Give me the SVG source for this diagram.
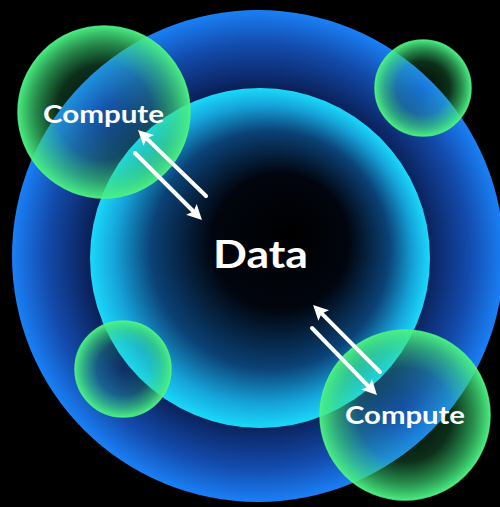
<svg xmlns="http://www.w3.org/2000/svg" width="500" height="507" viewBox="0 0 500 507">
<defs>
<style>
.lbl{font-family:Lato,"Liberation Sans",sans-serif;font-weight:700;fill:#ffffff;text-anchor:middle}
.arw{stroke:#ffffff;stroke-width:4;stroke-linecap:round;fill:none;marker-end:url(#head)}
.green{fill:url(#gGreen);stroke:#52f28a;stroke-width:1.5;stroke-opacity:0.85}
</style>
<radialGradient id="gOuter" gradientUnits="userSpaceOnUse" cx="258" cy="256" r="246">
<stop offset="0" stop-color="#040c22"/>
<stop offset="0.68" stop-color="#0a1f56"/>
<stop offset="0.86" stop-color="#134bac"/>
<stop offset="1" stop-color="#1a80f6"/>
</radialGradient>
<radialGradient id="gInner" cx="0.5" cy="0.5" r="0.5" fx="0.6" fy="0.42">
<stop offset="0" stop-color="#000000"/>
<stop offset="0.4" stop-color="#01050e"/>
<stop offset="0.7" stop-color="#0b4277"/>
<stop offset="0.88" stop-color="#15a4da"/>
<stop offset="1" stop-color="#1ad9f9"/>
</radialGradient>
<radialGradient id="gGreen" cx="0.5" cy="0.5" r="0.5">
<stop offset="0" stop-color="#30d070" stop-opacity="0.04"/>
<stop offset="0.55" stop-color="#38d878" stop-opacity="0.22"/>
<stop offset="0.8" stop-color="#3fe07a" stop-opacity="0.62"/>
<stop offset="1" stop-color="#4af082" stop-opacity="0.97"/>
</radialGradient>
<marker id="head" markerUnits="userSpaceOnUse" markerWidth="16" markerHeight="16" refX="3" refY="7.5" orient="auto" overflow="visible">
<path d="M0,0 L15,7.5 L0,15 L3,7.5 Z" fill="#ffffff"/>
</marker>
</defs>
<rect x="0" y="0" width="500" height="507" fill="#000000"/>
<g id="data">
<circle cx="258" cy="256" r="246" fill="url(#gOuter)"/>
<circle cx="260" cy="258" r="170" fill="url(#gInner)"/>
<text class="lbl" x="260.5" y="268" font-size="39" textLength="95" lengthAdjust="spacingAndGlyphs">Data</text>
</g>
<g id="compute-top-left">
<circle class="green" cx="104" cy="112" r="86"/>
<text class="lbl" x="103.5" y="123" font-size="25" textLength="121" lengthAdjust="spacingAndGlyphs">Compute</text>
</g>
<g id="node-top-right">
<circle class="green" cx="423" cy="88" r="48"/>
</g>
<g id="node-bottom-left">
<circle class="green" cx="123" cy="369" r="48"/>
</g>
<g id="compute-bottom-right">
<circle class="green" cx="405" cy="415" r="85"/>
<text class="lbl" x="405" y="424" font-size="25" textLength="120" lengthAdjust="spacingAndGlyphs">Compute</text>
</g>
<g id="connectors">
<line class="arw" x1="206" y1="196" x2="146.6" y2="138.4"/>
<line class="arw" x1="135" y1="153" x2="193.5" y2="211.5"/>
<line class="arw" x1="380" y1="372" x2="321.6" y2="313.4"/>
<line class="arw" x1="312" y1="328" x2="368.6" y2="386.4"/>
</g>
</svg>
